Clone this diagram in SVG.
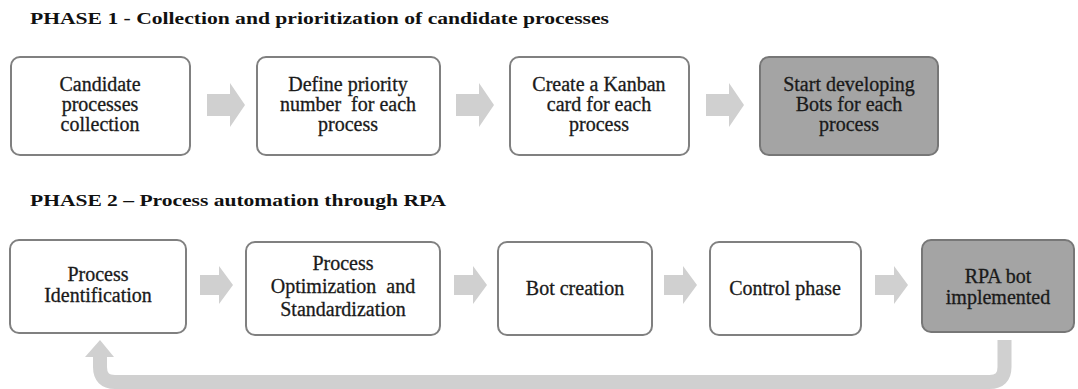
<svg xmlns="http://www.w3.org/2000/svg" width="1078" height="389" viewBox="0 0 1078 389">
  <defs>
    <style>
      .box { fill: #ffffff; stroke: #808080; stroke-width: 2; }
      .box.dark { fill: #a4a4a4; stroke: #777777; }
      .step { fill: #d0d0d0; }
      .loop { fill: none; stroke: #d0d0d0; stroke-width: 14; }
    </style>
    <!-- block arrow pointing right, origin at its left end, vertical centre at 0 -->
    <polygon id="arrowBig" class="step" points="0,-11 23,-11 23,-22 38,0 23,22 23,11 0,11"/>
    <polygon id="arrowSmall" class="step" points="0,-10 19,-10 19,-19 33,0 19,19 19,10 0,10"/>
  </defs>

  <rect width="1078" height="389" fill="#ffffff"/>

  <g font-family="Liberation Serif, Tinos, Times New Roman, Times, serif" font-weight="bold" font-size="16" fill="#111">
    <text x="30" y="24" textLength="579" lengthAdjust="spacingAndGlyphs">PHASE 1 - Collection and prioritization of candidate processes</text>
    <text x="30" y="206" textLength="416" lengthAdjust="spacingAndGlyphs">PHASE 2 – Process automation through RPA</text>
  </g>

  <g font-family="Liberation Serif, Tinos, Times New Roman, Times, serif" font-size="20" fill="#1a1a1a" stroke="#1a1a1a" stroke-width="0.3" text-anchor="middle">
    <!-- Phase 1 nodes -->
    <g id="p1-collect">
      <rect class="box" x="11" y="57" width="179" height="98" rx="9"/>
      <text x="100" y="91">Candidate</text>
      <text x="100" y="111">processes</text>
      <text x="100" y="131">collection</text>
    </g>
    <g id="p1-priority">
      <rect class="box" x="257" y="57" width="183" height="98" rx="9"/>
      <text x="348" y="91">Define priority</text>
      <text x="348" y="111" xml:space="preserve">number  for each</text>
      <text x="348" y="131">process</text>
    </g>
    <g id="p1-kanban">
      <rect class="box" x="510" y="57" width="179" height="98" rx="9"/>
      <text x="599" y="91">Create a Kanban</text>
      <text x="599" y="111">card for each</text>
      <text x="599" y="131">process</text>
    </g>
    <g id="p1-develop">
      <rect class="box dark" x="760" y="57" width="178" height="98" rx="9"/>
      <text x="849" y="91">Start developing</text>
      <text x="849" y="111">Bots for each</text>
      <text x="849" y="131">process</text>
    </g>

    <!-- Phase 2 nodes -->
    <g id="p2-identify">
      <rect class="box" x="10" y="240" width="176" height="93" rx="9"/>
      <text x="98" y="281">Process</text>
      <text x="98" y="302">Identification</text>
    </g>
    <g id="p2-optimize">
      <rect class="box" x="246" y="242" width="194" height="93" rx="9"/>
      <text x="343" y="270">Process</text>
      <text x="343" y="293" xml:space="preserve">Optimization  and</text>
      <text x="343" y="316">Standardization</text>
    </g>
    <g id="p2-bot">
      <rect class="box" x="498" y="242" width="154" height="93" rx="9"/>
      <text x="575" y="295">Bot creation</text>
    </g>
    <g id="p2-control">
      <rect class="box" x="710" y="242" width="151" height="93" rx="9"/>
      <text x="785" y="295">Control phase</text>
    </g>
    <g id="p2-implemented">
      <rect class="box dark" x="922" y="240" width="152" height="92" rx="9"/>
      <text x="998" y="283">RPA bot</text>
      <text x="998" y="304">implemented</text>
    </g>
  </g>

  <!-- Connectors -->
  <g id="connectors">
    <use href="#arrowBig" x="207" y="105"/>
    <use href="#arrowBig" x="456" y="105"/>
    <use href="#arrowBig" x="706" y="105"/>

    <use href="#arrowSmall" x="200" y="285"/>
    <use href="#arrowSmall" x="454" y="285"/>
    <use href="#arrowSmall" x="664" y="285"/>
    <use href="#arrowSmall" x="875" y="285"/>

    <!-- feedback loop from the implemented bot back to identification -->
    <path class="loop" d="M1004.5 340 V367 Q1004.5 382 989.5 382 H115 Q100 382 100 367 V355"/>
    <polygon class="step" points="85,357 100,340 114,357"/>
  </g>
</svg>
